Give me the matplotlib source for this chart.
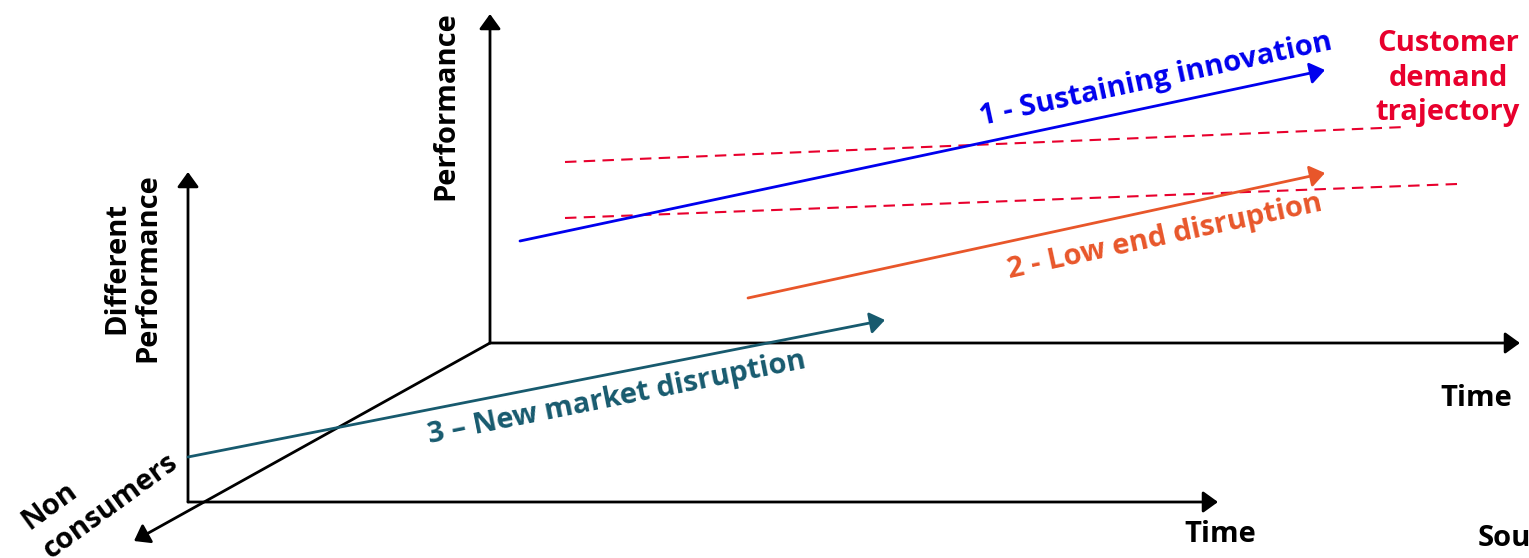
import matplotlib
matplotlib.use("Agg")
import matplotlib.pyplot as plt

plt.rcParams['font.family'] = ['Open Sans', 'DejaVu Sans']

W, H = 1529, 558

# Axes frame (pixel-space diagram coordinates)
back_origin = (490, 343)
back_y_end = (490, 14)
back_x_end = (1520, 343)
front_origin = (188, 502)
front_y_end = (188, 172)
front_x_end = (1218, 502)
depth_end = (134, 541)

# Trajectories (start, end)
sustaining = [(520, 241), (1325, 70)]
low_end = [(748, 298), (1325, 173)]
new_market = [(188, 457), (885, 320)]
demand_upper = [(565, 162), (1405, 127)]
demand_lower = [(565, 218), (1457, 184)]

BLUE = '#0000ee'
ORANGE = '#e8562a'
TEAL = '#175a6e'
RED = '#e8002d'

fig = plt.figure(figsize=(W / 100, H / 100), dpi=100)
ax = fig.add_axes([0, 0, 1, 1])
ax.set_xlim(0, W)
ax.set_ylim(H, 0)
ax.axis('off')


def arrow(p0, p1, color, lw=2.0, hw=13, hl=18):
    ax.annotate('', xy=p1, xytext=p0,
                arrowprops=dict(arrowstyle=f'-|>,head_width={hw/20:.2f},head_length={hl/20:.2f}',
                                color=color, lw=lw, shrinkA=0, shrinkB=0))


arrow(back_origin, back_y_end, 'black')
arrow(back_origin, back_x_end, 'black')
arrow(front_origin, front_y_end, 'black')
arrow(front_origin, front_x_end, 'black')
arrow(back_origin, depth_end, 'black')

arrow(sustaining[0], sustaining[1], BLUE)
arrow(low_end[0], low_end[1], ORANGE)
arrow(new_market[0], new_market[1], TEAL)

for seg in (demand_upper, demand_lower):
    ax.plot([seg[0][0], seg[1][0]], [seg[0][1], seg[1][1]], color=RED, lw=1.5,
            linestyle=(0, (5.5, 3.5)))

fs = 21
ax.text(446, 106, 'Performance', rotation=90, ha='center', va='center',
        fontsize=fs, fontweight='bold')
ax.text(132, 268, 'Different\nPerformance', rotation=90, ha='center', va='center',
        fontsize=fs, fontweight='bold', linespacing=1.1)
ax.text(1476, 398, 'Time', ha='center', va='center', fontsize=fs, fontweight='bold')
ax.text(1220, 534, 'Time', ha='center', va='center', fontsize=fs, fontweight='bold')
ax.text(1478, 538, 'Source', ha='left', va='center', fontsize=fs, fontweight='bold')
ax.text(100, 492, 'Non\nconsumers', rotation=36, ha='center', va='center',
        fontsize=fs, fontweight='bold', linespacing=1.3, multialignment='left')
ax.text(1448, 78, 'Customer\ndemand\ntrajectory', ha='center', va='center',
        fontsize=fs, fontweight='bold', color=RED, linespacing=1.25)
ax.text(1156, 80, '1 - Sustaining innovation', rotation=12.2, ha='center', va='center',
        fontsize=fs, fontweight='bold', color=BLUE)
ax.text(1165, 237, '2 - Low end disruption', rotation=12.2, ha='center', va='center',
        fontsize=fs, fontweight='bold', color=ORANGE)
ax.text(617, 398, '3 – New market disruption', rotation=11.3, ha='center', va='center',
        fontsize=fs, fontweight='bold', color=TEAL)

fig.savefig('out.png', dpi=100)
